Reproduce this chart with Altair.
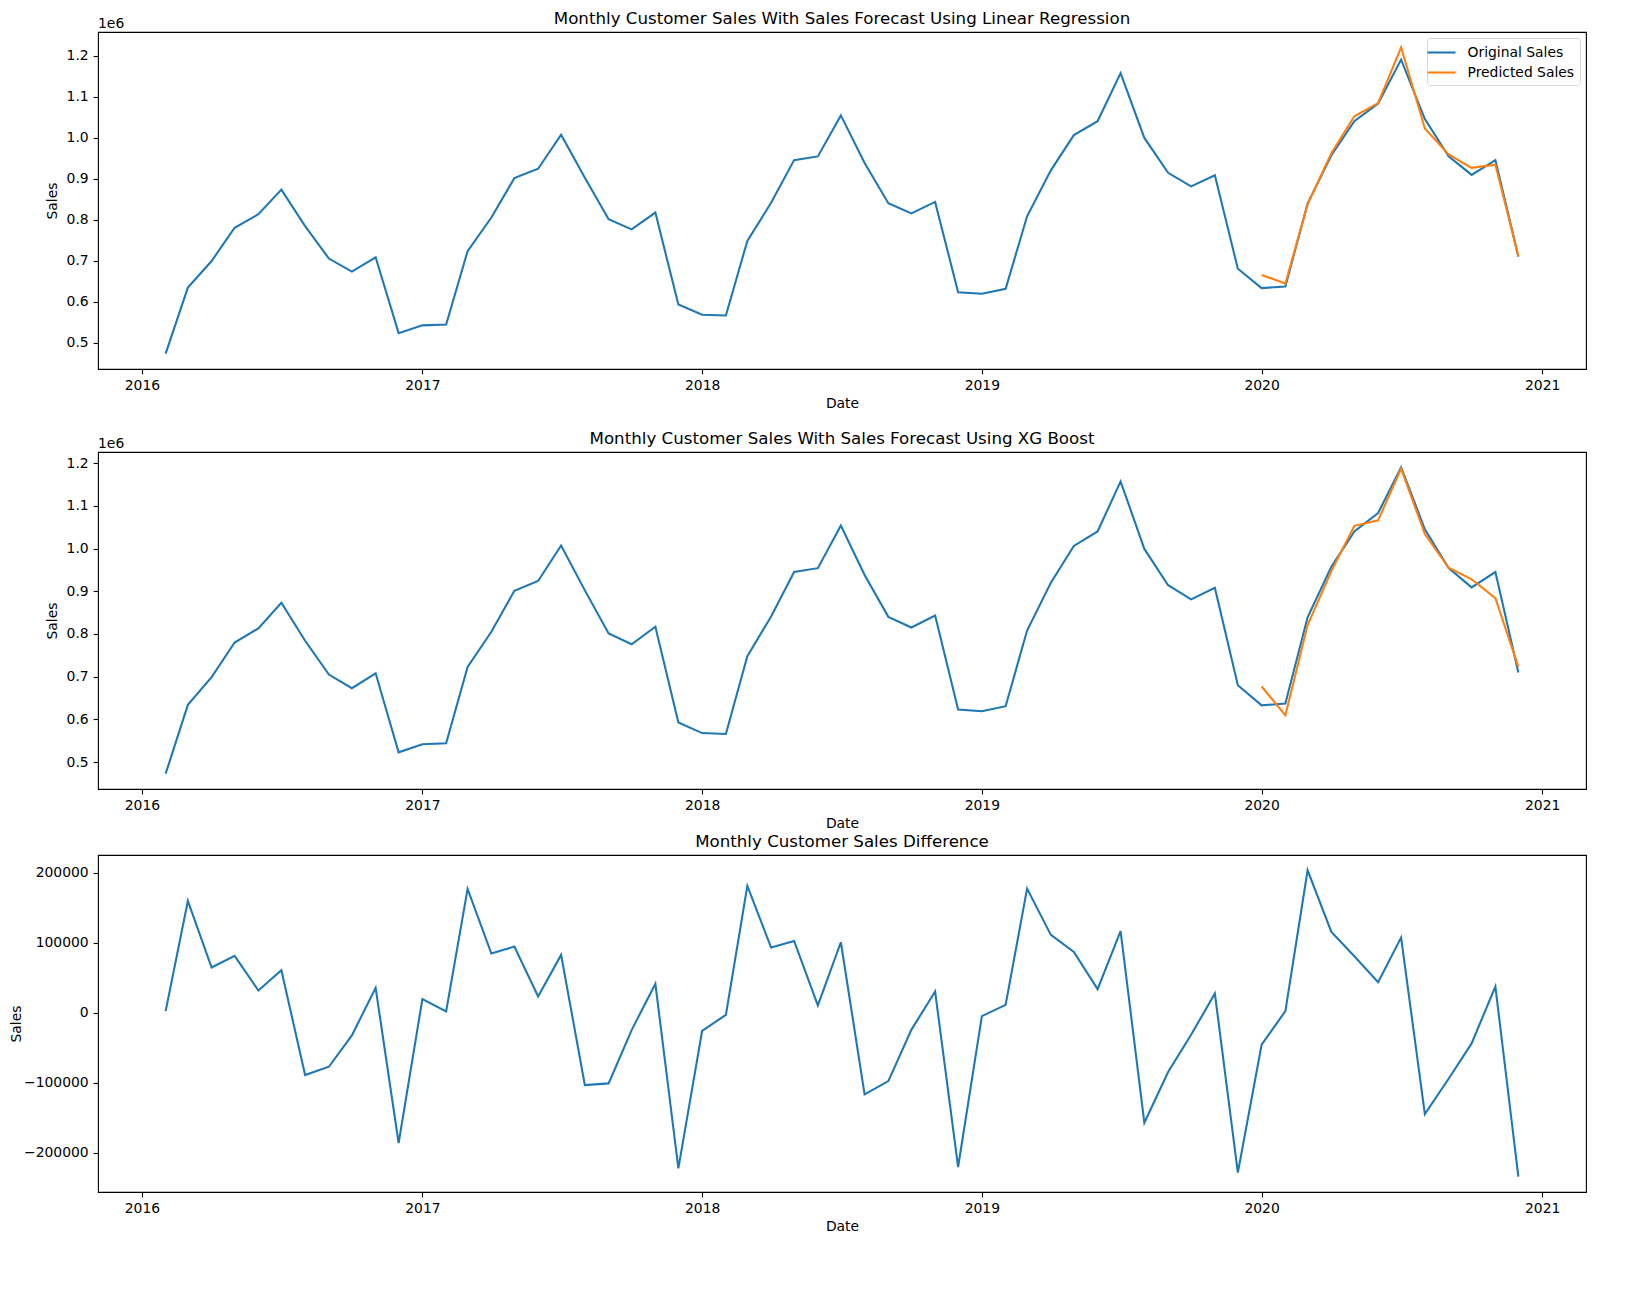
import altair as alt
import pandas as pd

# ---------------- data ----------------
months = pd.date_range("2016-02-01", "2020-12-01", freq="MS")

sales = [
    473000, 634000, 699000, 780000, 813000, 873000, 784000, 705000, 673000, 708000, 523000,
    542000, 544000, 723000, 805000, 901000, 924000, 1007000, 902000, 801000, 776000, 817000, 593000,
    568000, 566000, 748000, 841000, 945000, 954000, 1054000, 938000, 840000, 815000, 843000, 623000,
    619000, 631000, 808000, 920000, 1006000, 1040000, 1157000, 999000, 914000, 881000, 908000, 680000,
    633000, 637000, 839000, 957000, 1040000, 1083000, 1190000, 1045000, 954000, 909000, 945000, 710000,
]

forecast_months = months[-12:]
pred_lr = [665000, 644000, 837000, 962000, 1052000, 1084000, 1220000, 1022000, 959000, 926000, 934000, 710000]
pred_xgb = [677000, 610000, 821000, 947000, 1053000, 1066000, 1187000, 1034000, 955000, 928000, 884000, 723000]

sales_diff = [
    2400, 159800, 64700, 81300, 31900, 60900, -88900, -77000, -32300, 35700, -185900,
    19500, 1900, 176900, 84600, 94600, 23300, 82700, -103200, -100800, -24700, 41400, -222100,
    -25700, -2900, 181200, 93200, 102700, 10500, 100800, -116500, -97500, -24300, 30400, -220200,
    -4800, 11400, 177400, 111300, 87000, 33800, 116500, -156900, -84600, -31400, 27600, -228200,
    -45600, 2400, 203500, 115500, 80800, 43700, 107500, -144600, -94200, -43700, 37600, -234000,
]

series_names = ["Original Sales", "Predicted Sales"]
titles = [
    "Monthly Customer Sales With Sales Forecast Using Linear Regression",
    "Monthly Customer Sales With Sales Forecast Using XG Boost",
    "Monthly Customer Sales Difference",
]
year_ticks = [2016, 2017, 2018, 2019, 2020, 2021]
sales_ticks = [500000, 600000, 700000, 800000, 900000, 1000000, 1100000, 1200000]
diff_ticks = [-200000, -100000, 0, 100000, 200000]

# ---------------- style ----------------
FONT = "DejaVu Sans"
BLUE, ORANGE = "#1f77b4", "#ff7f0e"
W, H = 1488, 337
LW = 2.08
FS = 13.9


def padded(lo, hi, frac=0.05):
    span = hi - lo
    return lo - frac * span, hi + frac * span


def dt(ts):
    return alt.DateTime(year=ts.year, month=ts.month, date=ts.day,
                        hours=ts.hour, minutes=ts.minute)


x0, x1 = padded(months[0], months[-1])
x_scale = alt.Scale(domain=[dt(x0), dt(x1)], nice=False)
x_values = [alt.DateTime(year=y, month=1, date=1) for y in year_ticks]


def x_axis(extra_line=False):
    return alt.Axis(
        title=["Date", " "] if extra_line else "Date",
        values=x_values, format="%Y", formatType="time",
        titlePadding=4, titleLineHeight=17,
    )


def sales_panel(pred, title, extra_line):
    df = pd.concat([
        pd.DataFrame({"date": months, "value": sales, "series": series_names[0]}),
        pd.DataFrame({"date": forecast_months, "value": pred, "series": series_names[1]}),
    ], ignore_index=True)
    lo, hi = padded(df["value"].min(), df["value"].max())
    lines = alt.Chart(df).mark_line(strokeWidth=LW).encode(
        x=alt.X("date:T", scale=x_scale, axis=x_axis(extra_line)),
        y=alt.Y("value:Q", scale=alt.Scale(domain=[lo, hi], nice=False, zero=False),
                axis=alt.Axis(title="Sales", values=sales_ticks, titlePadding=7,
                              labelExpr="format(datum.value / 1000000, '.1f')")),
        color=alt.Color("series:N",
                        scale=alt.Scale(domain=series_names, range=[BLUE, ORANGE]),
                        legend=alt.Legend(title=None, orient="top-right", offset=6,
                                          symbolType="M-1.66,0H1.66", symbolSize=286,
                                          symbolStrokeWidth=LW, labelOffset=16.5,
                                          padding=5, rowPadding=3,
                                          strokeColor="#d6d6d6", fillColor="white",
                                          cornerRadius=3, labelFontSize=FS,
                                          labelColor="black", labelFont=FONT)),
    )
    exp = alt.Chart(pd.DataFrame({"t": ["1e6"]})).mark_text(
        align="left", baseline="middle", fontSize=FS, font=FONT, color="black"
    ).encode(text="t:N", x=alt.value(0), y=alt.value(-8))
    return alt.layer(lines, exp).properties(
        width=W, height=H, title=alt.TitleParams(title, offset=-10.5)
    )


p1 = sales_panel(pred_lr, titles[0], True)
p2 = sales_panel(pred_xgb, titles[1], False)

ddf = pd.DataFrame({"date": months, "value": sales_diff})
dlo, dhi = padded(ddf["value"].min(), ddf["value"].max())
p3 = alt.Chart(ddf).mark_line(strokeWidth=LW, color=BLUE).encode(
    x=alt.X("date:T", scale=x_scale, axis=x_axis(False)),
    y=alt.Y("value:Q", scale=alt.Scale(domain=[dlo, dhi], nice=False, zero=False),
            axis=alt.Axis(title="Sales", values=diff_ticks, format="d", titlePadding=0)),
).properties(width=W, height=H, title=alt.TitleParams(titles[2], offset=4))

chart = alt.vconcat(p1, p2, p3, spacing=1).properties(
    padding={"left": 0, "top": 2, "right": 0, "bottom": 0}
).configure(font=FONT).configure_view(
    stroke="black", strokeWidth=1.1
).configure_axis(
    domain=False, grid=False, tickColor="black", tickSize=4.9, tickWidth=1.1,
    labelColor="black", labelFontSize=FS, labelPadding=4.9, labelFont=FONT,
    titleColor="black", titleFontSize=FS, titleFontWeight="normal", titleFont=FONT,
).configure_axisX(labelFlush=False).configure_title(
    font=FONT, fontSize=16.67, fontWeight="normal", color="black",
    anchor="middle", frame="group",
)

chart.save("out.html", embed_options={"renderer": "svg", "actions": False})
